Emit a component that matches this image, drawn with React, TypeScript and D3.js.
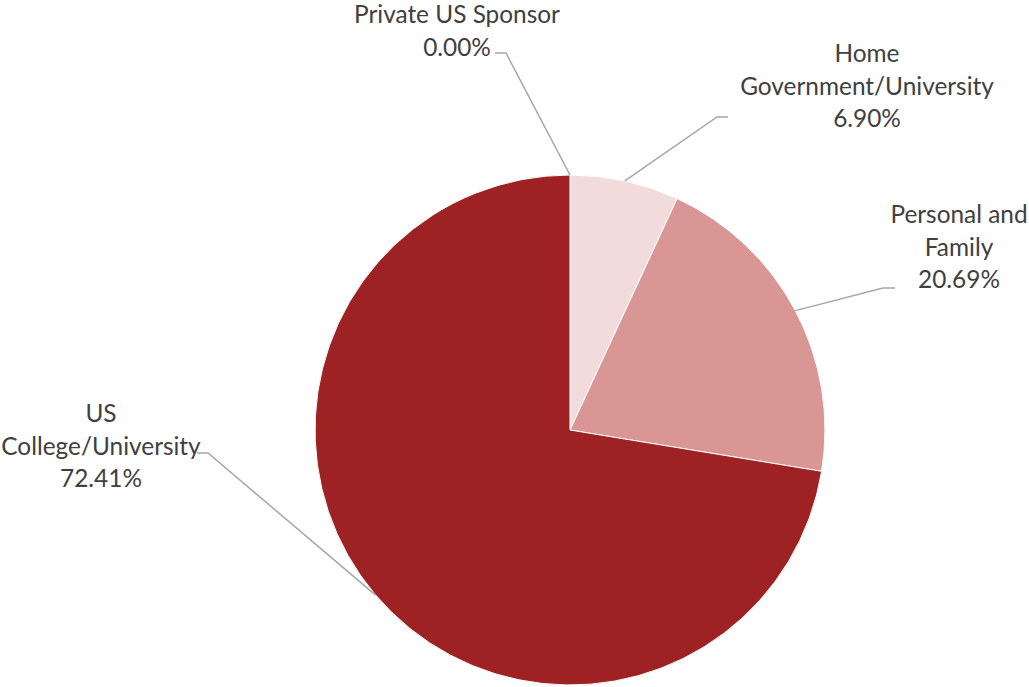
import React from 'react';
import * as d3 from 'd3';

// Funding sources, clockwise from 12 o'clock
const categories = ['Private US Sponsor', 'Home Government/University', 'Personal and Family', 'US College/University'];
const shares = [0.0, 6.9, 20.69, 72.41];
const labelLines = [
  ['Private US Sponsor', '0.00%'],
  ['Home', 'Government/University', '6.90%'],
  ['Personal and', 'Family', '20.69%'],
  ['US', 'College/University', '72.41%'],
];
const colors = ['#9E2224', '#F2DCDB', '#D99694', '#9E2224'];

// label placement (text centre x, first baseline y, leader elbow and horizontal end)
const labelLayout = [
  { x: 457, y: 23, ex: 506, ey: 53, hx: 495 },
  { x: 867, y: 62, ex: 717, ey: 117, hx: 728 },
  { x: 959, y: 223, ex: 883, ey: 288, hx: 895 },
  { x: 101, y: 422, ex: 208, ey: 453, hx: 197 },
];

const W = 1029;
const H = 687;
const cx = 570;
const cy = 430;
const radius = 255;
const lineH = 32.5;

export default function App() {
  const pie = d3.pie<number>().sort(null).value(d => d)(shares);
  const arc = d3.arc<d3.PieArcDatum<number>>().innerRadius(0).outerRadius(radius);

  return (
    <svg width={W} height={H} style={{ position: 'absolute', left: 0, top: 0, background: '#fff' }}
      fontFamily="Lato, 'Open Sans', sans-serif">
      <g transform={`translate(${cx},${cy})`}>
        {pie.map((p, i) => (
          <path key={categories[i]} d={arc(p) || ''} fill={colors[i]} stroke="#fff" strokeWidth={1} />
        ))}
      </g>
      {pie.map((p, i) => {
        const mid = (p.startAngle + p.endAngle) / 2;
        const sx = cx + radius * Math.sin(mid);
        const sy = cy - radius * Math.cos(mid);
        const L = labelLayout[i];
        return (
          <g key={'lbl' + i}>
            <polyline points={`${sx},${sy} ${L.ex},${L.ey} ${L.hx},${L.ey}`}
              fill="none" stroke="#A6A6A6" strokeWidth={1.5} />
            <text textAnchor="middle" fill="#404040" fontSize={24.4}>
              {labelLines[i].map((t, j) => (
                <tspan key={j} x={L.x} y={L.y + j * lineH}>{t}</tspan>
              ))}
            </text>
          </g>
        );
      })}
    </svg>
  );
}
